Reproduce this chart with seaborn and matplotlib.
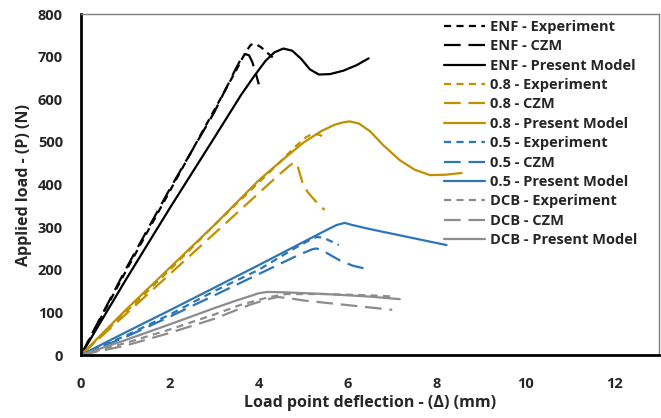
import numpy as np
import pandas as pd
import matplotlib
matplotlib.use("Agg")
import matplotlib.pyplot as plt
import seaborn as sns

# ---- data ----
enf_exp_x = [0, 1, 2, 3, 3.5, 3.7, 3.82, 3.92, 4.05, 4.2, 4.35]
enf_exp_y = [0, 195, 385, 575, 670, 710, 728, 730, 722, 708, 695]
enf_czm_x = [0, 1, 2, 3, 3.45, 3.6, 3.7, 3.78, 3.85, 3.92, 4.0]
enf_czm_y = [0, 200, 390, 570, 665, 695, 706, 703, 688, 665, 635]
enf_pm_x = [0, 1, 2, 3, 3.6, 3.9, 4.15, 4.35, 4.55, 4.75, 4.95, 5.15, 5.35, 5.6, 5.9, 6.2, 6.47]
enf_pm_y = [0, 175, 345, 510, 610, 655, 690, 710, 719, 714, 695, 670, 658, 659, 667, 680, 696]

p08_exp_x = [0, 1, 2, 3, 4, 4.5, 4.8, 5.05, 5.22, 5.38, 5.52]
p08_exp_y = [0, 100, 200, 305, 405, 455, 487, 510, 520, 516, 506]
p08_czm_x = [0, 1, 2, 3, 4, 4.4, 4.7, 4.8, 4.87, 4.92, 5.0, 5.1, 5.19, 5.33, 5.48]
p08_czm_y = [0, 95, 190, 285, 380, 418, 445, 452, 445, 426, 398, 382, 371, 355, 340]
p08_pm_x = [0, 1, 2, 3, 4, 4.5, 5.0, 5.4, 5.7, 5.9, 6.05, 6.25, 6.5, 6.8, 7.17, 7.5, 7.85, 8.2, 8.56]
p08_pm_y = [0, 105, 205, 305, 410, 455, 498, 525, 540, 546, 548, 543, 525, 492, 457, 435, 422, 423, 427]

p05_exp_x = [0, 1, 2, 3, 4, 4.8, 5.15, 5.3, 5.45, 5.6, 5.8]
p05_exp_y = [0, 45, 95, 150, 200, 250, 270, 277, 275, 268, 258]
p05_czm_x = [0, 1, 2, 3, 4, 4.9, 5.2, 5.3, 5.45, 5.6, 5.82, 6.1, 6.45]
p05_czm_y = [0, 42, 90, 140, 190, 235, 248, 250, 244, 235, 222, 210, 201]
p05_pm_x = [0, 1, 2, 3, 4, 5, 5.5, 5.75, 5.93, 6.1, 6.43, 6.79, 7.3, 7.8, 8.22]
p05_pm_y = [0, 53, 105, 158, 211, 265, 292, 305, 310, 305, 297, 289, 278, 267, 258]

dcb_exp_x = [0, 1, 2, 3, 3.6, 4.2, 4.6, 5.5, 6.5, 7.06]
dcb_exp_y = [0, 28, 60, 95, 118, 135, 143, 143, 140, 137]
dcb_czm_x = [0, 1, 2, 3, 3.8, 4.2, 4.43, 4.7, 5.0, 6.0, 7.0]
dcb_czm_y = [0, 22, 52, 85, 118, 131, 136, 133, 128, 117, 106]
dcb_pm_x = [0, 1, 2, 3, 3.5, 3.8, 4.0, 4.2, 4.6, 5.5, 6.5, 7.17]
dcb_pm_y = [0, 35, 72, 110, 128, 138, 145, 148, 147, 143, 137, 131]

series_names = ["ENF", "0.8", "0.5", "DCB"]
series_colors = ["#000000", "#BF9000", "#2E75B6", "#8C8C8C"]
kinds = ["Experiment", "CZM", "Present Model"]
xticks = [0, 2, 4, 6, 8, 10, 12]
yticks = [0, 100, 200, 300, 400, 500, 600, 700, 800]

data = {
    "ENF": [(enf_exp_x, enf_exp_y), (enf_czm_x, enf_czm_y), (enf_pm_x, enf_pm_y)],
    "0.8": [(p08_exp_x, p08_exp_y), (p08_czm_x, p08_czm_y), (p08_pm_x, p08_pm_y)],
    "0.5": [(p05_exp_x, p05_exp_y), (p05_czm_x, p05_czm_y), (p05_pm_x, p05_pm_y)],
    "DCB": [(dcb_exp_x, dcb_exp_y), (dcb_czm_x, dcb_czm_y), (dcb_pm_x, dcb_pm_y)],
}

sns.set_style("white")
plt.rcParams["font.family"] = ["Open Sans", "DejaVu Sans"]

fig = plt.figure(figsize=(6.61, 4.18), dpi=100)
ax = fig.add_axes([0.1225, 0.1507, 0.8745, 0.8158])

styles = [(0, (3.2, 2.4)), (0, (7.5, 3.5)), "-"]

for name, color in zip(series_names, series_colors):
    for kind, (xs, ys), ls in zip(kinds, data[name], styles):
        df = pd.DataFrame({"x": xs, "y": ys})
        sns.lineplot(data=df, x="x", y="y", ax=ax, color=color, linestyle=ls,
                     linewidth=1.6, sort=False, estimator=None,
                     label=f"{name} - {kind}")

ax.set_xlim(0, 13)
ax.set_ylim(0, 800)
ax.set_xticks(xticks)
ax.set_yticks(yticks)
ax.set_xticklabels([str(t) for t in xticks], fontweight="bold", fontsize=10.5)
ax.set_yticklabels([str(t) for t in yticks], fontweight="bold", fontsize=10.5)
ax.tick_params(axis="x", direction="in", length=4, width=1, color="#333333", pad=16)
ax.tick_params(axis="y", direction="in", length=4, width=1, color="#333333", pad=13)
ax.set_xlabel("Load point deflection - (Δ) (mm)", fontweight="bold", fontsize=11.5, labelpad=3)
ax.set_ylabel("Applied load - (P) (N)", fontweight="bold", fontsize=11.5, labelpad=4)

for s in ["left", "bottom"]:
    ax.spines[s].set_color("black")
    ax.spines[s].set_linewidth(2)
for s in ["top", "right"]:
    ax.spines[s].set_color("#7F7F7F")
    ax.spines[s].set_linewidth(1)
ax.grid(False)

leg = ax.legend(loc="upper right", bbox_to_anchor=(0.972, 1.0), frameon=False,
                prop={"weight": "bold", "size": 10.5}, handlelength=2.8,
                handletextpad=0.3, labelspacing=0.37, borderaxespad=0)

fig.savefig("out.png", dpi=100)
